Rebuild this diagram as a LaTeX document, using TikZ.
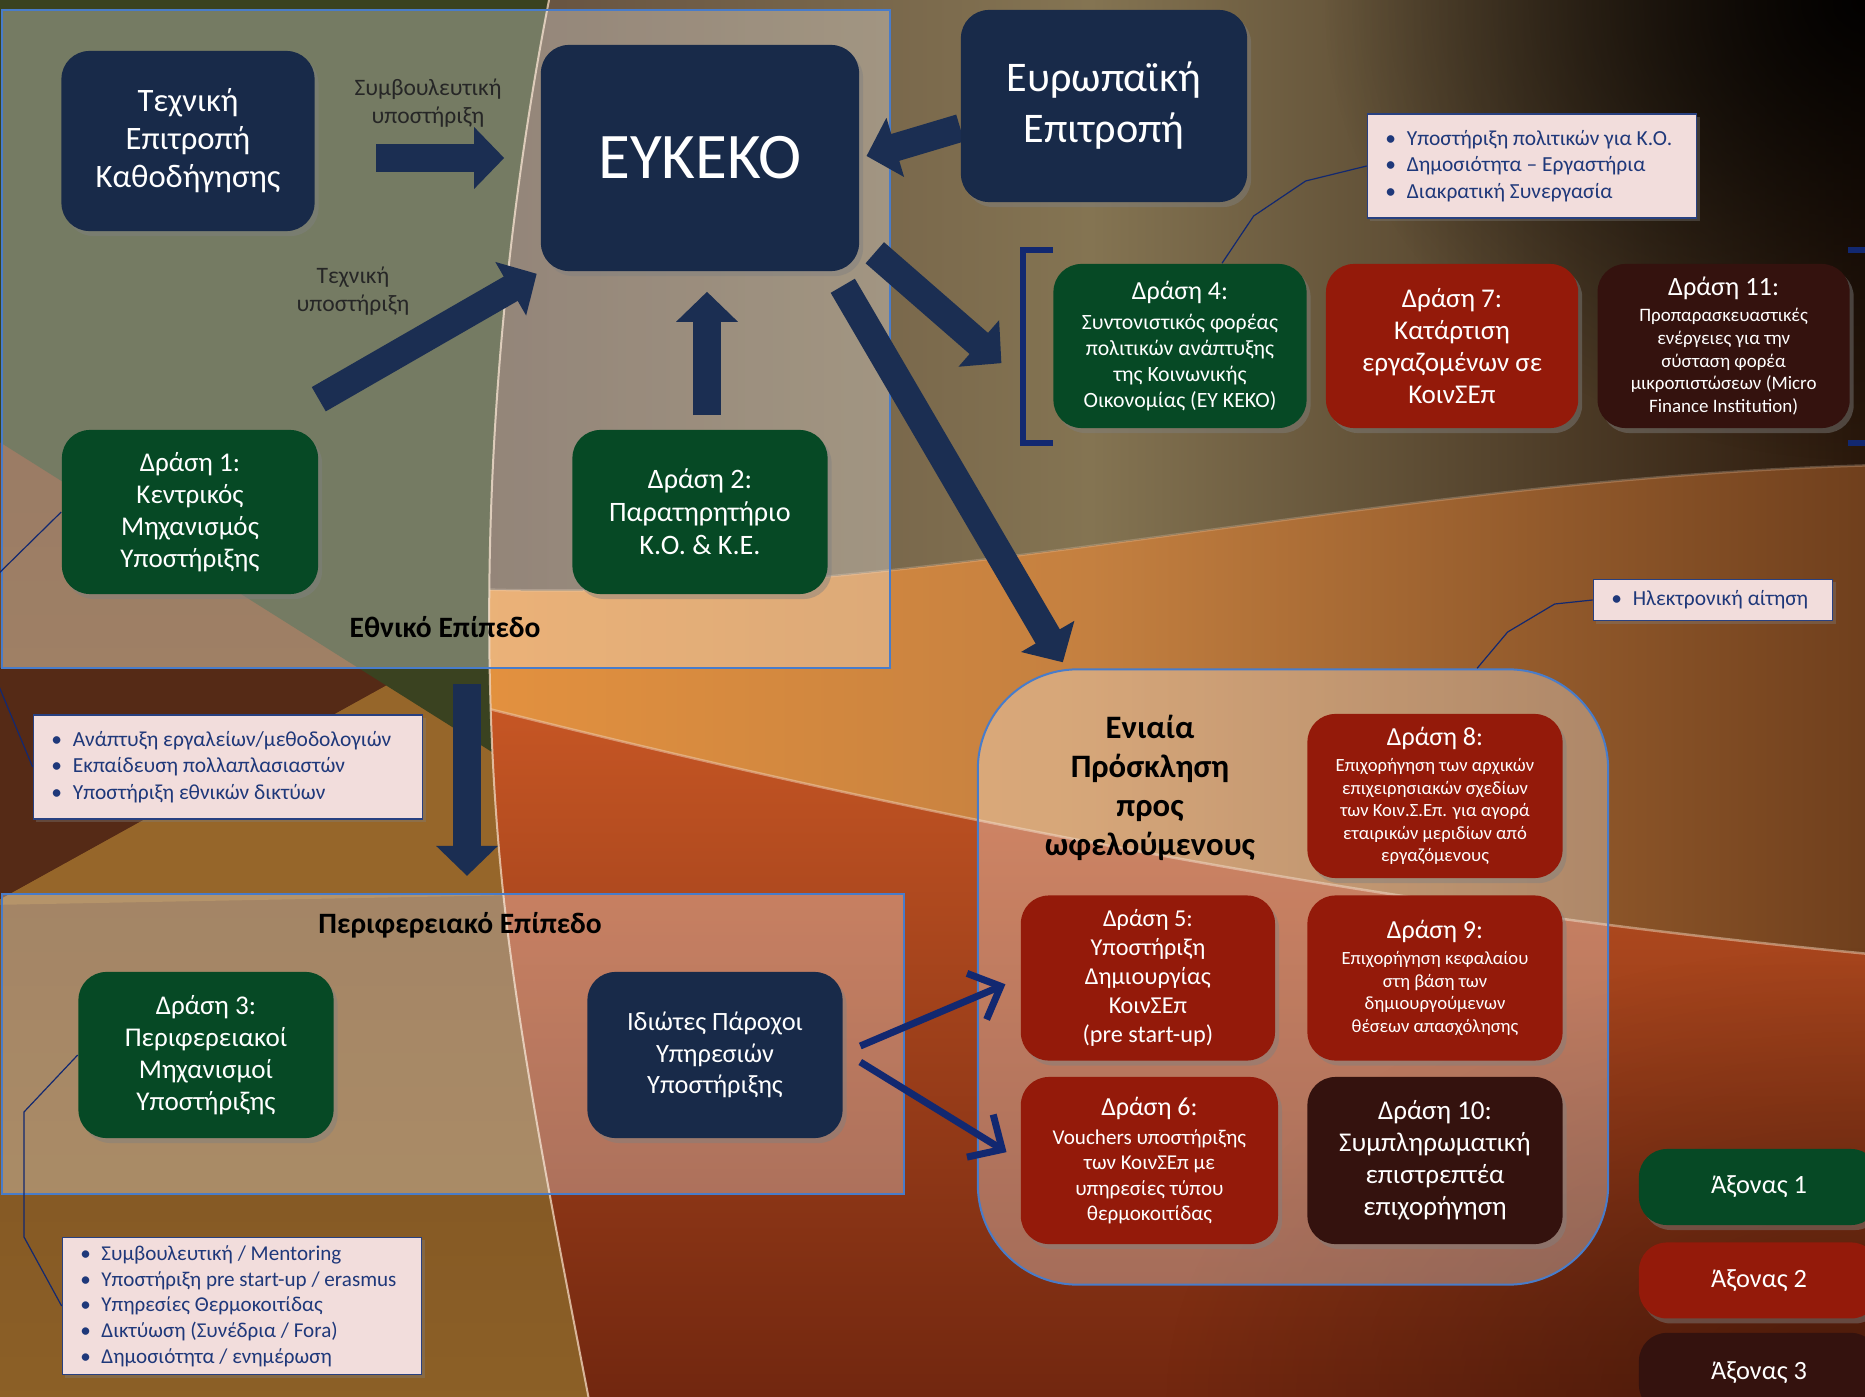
\documentclass[tikz,border=0pt]{standalone}
\usepackage{fontspec}
\setmainfont{Carlito}
\usetikzlibrary{arrows.meta,positioning,shadows,fadings}

\definecolor{navyfill}{RGB}{24,42,73}
\definecolor{greenfill}{RGB}{6,73,37}
\definecolor{redfill}{RGB}{148,26,10}
\definecolor{darkfill}{RGB}{52,18,14}
\definecolor{arrowblue}{RGB}{27,46,82}
\definecolor{barblue}{RGB}{18,40,112}
\definecolor{notefill}{RGB}{242,221,220}
\definecolor{notetext}{RGB}{31,56,122}
\definecolor{noteedge}{RGB}{40,64,128}
\definecolor{paneledge}{RGB}{72,124,202}
\definecolor{labelgray}{RGB}{38,38,38}
\definecolor{bgtop}{RGB}{98,54,33}
\definecolor{bgbottom}{RGB}{140,96,38}
\definecolor{bgolive}{RGB}{58,66,32}
\definecolor{bgdark}{RGB}{85,42,22}
\definecolor{bggold}{RGB}{150,102,42}
\definecolor{bgmauve}{RGB}{92,70,58}
\definecolor{bgkhaki}{RGB}{132,116,82}
\definecolor{bgnight}{RGB}{40,22,10}
\definecolor{bgorange}{RGB}{236,150,62}
\definecolor{bgamber}{RGB}{196,128,64}
\definecolor{bgbrown}{RGB}{110,62,28}
\definecolor{bgred}{RGB}{205,90,38}
\definecolor{bgmaroon}{RGB}{112,38,15}
\definecolor{arcwhite}{RGB}{238,210,185}

\newcommand{\setfs}[2]{\fontsize{#1}{#2}\selectfont}
\newcommand{\itm}{\textbullet\hspace{0.5em}}

\tikzfading[name=soft glow,inner color=transparent!0,outer color=transparent!100]

\pgfdeclarelayer{bgl}
\pgfdeclarelayer{panl}
\pgfdeclarelayer{arrl}
\pgfsetlayers{bgl,panl,arrl,main}

\tikzset{
  box node/.style={rounded corners=0.28cm,align=center,text=white,inner sep=0.05cm,
    minimum width=2.55cm,minimum height=1.64cm,
    drop shadow={shadow xshift=0.04cm,shadow yshift=-0.05cm,opacity=0.45}},
  navy node/.style={box node,fill=navyfill},
  green node/.style={box node,fill=greenfill},
  red node/.style={box node,fill=redfill},
  dark node/.style={box node,fill=darkfill},
  panel node/.style={draw=paneledge,line width=0.02cm,fill=white,fill opacity=0.3,inner sep=0},
  note node/.style={draw=noteedge,line width=0.015cm,fill=notefill,text=notetext,align=flush left,
    inner xsep=0.18cm,inner ysep=0.05cm,font=\setfs{6.1}{7.45},
    drop shadow={shadow xshift=0.03cm,shadow yshift=-0.03cm,opacity=0.35}},
  big arrow/.style={draw=arrowblue,line width=0.28cm,-{Triangle[length=0.3cm,width=0.6cm]}},
  thin arrow/.style={draw=barblue,line width=0.07cm,-{Straight Barb[length=0.26cm,width=0.5cm]}},
  leader/.style={draw=barblue,line width=0.012cm},
  brkt/.style={draw=barblue,line width=0.065cm},
  level/.style={font=\bfseries\setfs{8.4}{10},text=black},
  arrow label/.style={font=\setfs{6.7}{8.1},text=labelgray,align=center}
}

\begin{document}
\begin{tikzpicture}[x=0.01cm,y=-0.01cm]
\useasboundingbox (0,0) rectangle (1865,1397);

% background
\begin{pgfonlayer}{bgl}
  \shade[top color=bgtop,bottom color=bgbottom] (-10,-10) rectangle (1875,1407);
  \fill[bgdark] (-10,668) -- (418,668) -- (-10,905) -- cycle;
  \fill[bggold] (418,668) -- (520,668) -- (520,895) -- (-10,905) -- cycle;
  \fill[bgolive] (-10,-10) -- (700,-10) -- (700,883) -- (-10,436) -- cycle;
  \begin{scope}
    \clip (550,-5) .. controls (490,300) and (470,650) .. (510,950)
      .. controls (530,1100) and (560,1250) .. (590,1405) -- (1880,1410) -- (1880,-10) -- (552,-10) -- cycle;
    \shade[top color=bgred,bottom color=bgmaroon] (300,650) rectangle (1880,1410);
    \shade[left color=bgorange,right color=bgbrown,middle color=bgamber]
      (300,575) .. controls (800,640) and (1300,480) .. (1880,465) -- (1880,955)
      .. controls (1400,910) and (900,820) .. (300,660) -- cycle;
    \shade[left color=bgmauve,right color=bgnight,middle color=bgkhaki]
      (300,-10) -- (1880,-10) -- (1880,465) .. controls (1300,480) and (800,640) .. (300,575) -- cycle;
    \fill[black,path fading=soft glow,fill opacity=0.95] (1865,0) ellipse [x radius=5.4cm,y radius=4.6cm];
    \fill[black,path fading=soft glow,fill opacity=0.4] (1865,1397) ellipse [x radius=7cm,y radius=4.5cm];
    \draw[arcwhite,opacity=0.5,line width=0.025cm] (1880,955) .. controls (1400,910) and (900,820) .. (300,660);
    \draw[arcwhite,opacity=0.25,line width=0.025cm] (300,575) .. controls (800,640) and (1300,480) .. (1880,465);
  \end{scope}
  \draw[arcwhite,opacity=0.8,line width=0.02cm] (550,-5) .. controls (490,300) and (470,650) .. (510,950)
    .. controls (530,1100) and (560,1250) .. (590,1405);
\end{pgfonlayer}

% levels
\begin{pgfonlayer}{panl}
  \node[panel node,minimum width=8.88cm,minimum height=6.58cm] (nat) at (446,339) {};
  \node[panel node,minimum width=9.02cm,minimum height=3.0cm] (reg) at (453,1044) {};
  \node[panel node,rounded corners=1cm,minimum width=6.3cm,minimum height=6.15cm] (eniaia) at (1293,977) {};
\end{pgfonlayer}

\node[navy node,minimum width=2.53cm,minimum height=1.8cm,font=\setfs{9.3}{10.8}] (tek) at (188,141) {Τεχνική\\Επιτροπή\\Καθοδήγησης};
\node[navy node,minimum width=3.18cm,minimum height=2.26cm,font=\setfs{18.5}{22}] (eykeko) at (700,158) {ΕΥΚΕΚΟ};
\node[navy node,minimum width=2.86cm,minimum height=1.92cm,font=\setfs{12}{14.5}] (eur) at (1104,106) {Ευρωπαϊκή\\Επιτροπή};
\node[green node,minimum width=2.56cm,font=\setfs{7.7}{9.1}] (d1) at (190,512) {Δράση 1:\\Κεντρικός\\Μηχανισμός\\Υποστήριξης};
\node[green node,font=\setfs{8}{9.4}] (d2) at (700,512) {Δράση 2:\\Παρατηρητήριο\\Κ.Ο. \& Κ.Ε.};

\node[green node,minimum width=2.53cm,font=\setfs{6.2}{7.4}] (d4) at (1180,346)
  {{\setfs{7.4}{8.9}Δράση 4:}\\[1pt]Συντονιστικός φορέας\\πολιτικών ανάπτυξης\\της Κοινωνικής\\Οικονομίας (ΕΥ ΚΕΚΟ)};
\node[red node,minimum width=2.52cm,font=\setfs{7.7}{9.1},right=0.18cm of d4] (d7) {Δράση 7:\\Κατάρτιση\\εργαζομένων σε\\ΚοινΣΕπ};
\node[dark node,minimum width=2.52cm,font=\setfs{5.4}{6.45},right=0.18cm of d7] (d11)
  {{\setfs{7.5}{9}Δράση 11:}\\[1pt]Προπαρασκευαστικές\\ενέργειες για την\\σύσταση φορέα\\μικροπιστώσεων (Micro\\Finance Institution)};

\node[red node,font=\setfs{5.3}{6.4}] (d8) at (1435,796)
  {{\setfs{7.4}{8.9}Δράση 8:}\\[1pt]Επιχορήγηση των αρχικών\\επιχειρησιακών σχεδίων\\των Κοιν.Σ.Επ. για αγορά\\εταιρικών μεριδίων από\\εργαζόμενους};
\node[red node,minimum height=1.65cm,font=\setfs{5.3}{6.4},below=0.16cm of d8] (d9)
  {{\setfs{7.4}{8.9}Δράση 9:}\\[1pt]Επιχορήγηση κεφαλαίου\\στη βάση των\\δημιουργούμενων\\θέσεων απασχόλησης};
\node[dark node,minimum height=1.67cm,font=\setfs{7.7}{9.1},below=0.15cm of d9] (d10) {Δράση 10:\\Συμπληρωματική\\επιστρεπτέα\\επιχορήγηση};
\node[red node,minimum width=2.54cm,minimum height=1.65cm,font=\setfs{6.9}{8.3},left=0.31cm of d9] (d5) {Δράση 5:\\Υποστήριξη\\Δημιουργίας\\ΚοινΣΕπ\\(pre start-up)};
\node[red node,minimum width=2.57cm,minimum height=1.67cm,font=\setfs{6}{7.2},left=0.28cm of d10] (d6)
  {{\setfs{7.4}{8.9}Δράση 6:}\\[1pt]Vouchers υποστήριξης\\των ΚοινΣΕπ με\\υπηρεσίες τύπου\\θερμοκοιτίδας};

\node[green node,minimum height=1.66cm,font=\setfs{7.7}{9.1}] (d3) at (206,1055) {Δράση 3:\\Περιφερειακοί\\Μηχανισμοί\\Υποστήριξης};
\node[navy node,minimum height=1.66cm,font=\setfs{7.5}{9}] (idi) at (715,1055) {Ιδιώτες Πάροχοι\\Υπηρεσιών\\Υποστήριξης};

% legend
\node[green node,minimum width=2.4cm,minimum height=0.76cm,font=\setfs{7.5}{9}] (ax1) at (1759,1187) {Άξονας 1};
\node[red node,minimum width=2.4cm,minimum height=0.76cm,font=\setfs{7.5}{9},below=0.16cm of ax1] (ax2) {Άξονας 2};
\node[dark node,minimum width=2.4cm,minimum height=0.8cm,font=\setfs{7.5}{9},below=0.13cm of ax2] (ax3) {Άξονας 3};

% labels
\node[level] (lblnat) at (445,627) {Εθνικό Επίπεδο};
\node[level] (lblreg) at (460,925) {Περιφερειακό Επίπεδο};
\node[level,font=\bfseries\setfs{9.3}{11.1},align=center] (lblen) at (1150,788) {Ενιαία\\Πρόσκληση\\προς\\ωφελούμενους};
\node[arrow label] (lblsym) at (428,103) {Συμβουλευτική\\υποστήριξη};
\node[arrow label] (lbltek) at (353,291) {Τεχνική\\υποστήριξη};

% notes
\node[note node,text width=2.93cm,minimum height=1.04cm] (nt4) at (1532,166)
  {\itm Υποστήριξη πολιτικών για Κ.Ο.\\\itm Δημοσιότητα – Εργαστήρια\\\itm Διακρατική Συνεργασία};
\node[note node,text width=2.03cm,minimum height=0.41cm] (ntel) at (1713,600) {\itm Ηλεκτρονική αίτηση};
\node[note node,text width=3.53cm,minimum height=1.04cm] (nt1) at (228,767)
  {\itm Ανάπτυξη εργαλείων/μεθοδολογιών\\\itm Εκπαίδευση πολλαπλασιαστών\\\itm Υποστήριξη εθνικών δικτύων};
\node[note node,text width=3.23cm,minimum height=1.37cm,font=\setfs{6}{7.3}] (nt3) at (242,1306)
  {\itm Συμβουλευτική / Mentoring\\\itm Υποστήριξη pre start-up / erasmus\\\itm Υπηρεσίες Θερμοκοιτίδας\\\itm Δικτύωση (Συνέδρια / Fora)\\\itm Δημοσιότητα / ενημέρωση};

\coordinate (grp4) at (1015,375);

\begin{pgfonlayer}{arrl}
  \draw[big arrow,shorten <=0.61cm,shorten >=0.36cm] (tek.east |- eykeko.west) -- (eykeko.west);
  \draw[big arrow,shorten >=0.04cm] ([yshift=0.3cm]d1.north east) -- (eykeko.south west);
  \draw[big arrow,shorten <=0.14cm,shorten >=0.2cm] ([xshift=0.07cm]d2.north) -- ([xshift=0.07cm]eykeko.south);
  \draw[big arrow,shorten >=0.07cm] ([yshift=-0.22cm]eur.west) -- (eykeko.east);
  \draw[big arrow,shorten >=0.18cm] ([xshift=0.15cm,yshift=0.19cm]eykeko.south east) -- (grp4);
  \draw[big arrow] ([xshift=-0.17cm,yshift=-0.14cm]eykeko.south east) -- ([xshift=0.86cm,yshift=0.06cm]eniaia.north west);
  \draw[big arrow,shorten <=0.15cm,shorten >=0.17cm] ([xshift=0.21cm]nat.south) -- ([xshift=0.21cm]nat.south |- reg.north);
  \draw[thin arrow,shorten >=0.16cm] ([xshift=0.17cm,yshift=0.09cm]idi.east) -- (d5.west);
  \draw[thin arrow,shorten >=0.16cm] ([xshift=0.17cm,yshift=-0.07cm]idi.east) -- (d6.west);
  % brackets
  \draw[brkt] (1053,250) -- (1023,250) -- (1023,443) -- (1053,443);
  \draw[brkt] (1848,250) -- (1870,250) -- (1870,443) -- (1848,443);
  % leaders
  \draw[leader] (nt4.west) -- ++(-61,15) -- ++(-52,35) -- ([xshift=0.42cm]d4.north);
  \draw[leader] (ntel.west) -- ++(-38,4) -- ++(-47,28) -- ([xshift=1.84cm]eniaia.north);
  \draw[leader] (d1.west) -- (-12,584) -- (-12,660) -- (nt1.west);
  \draw[leader] (d3.west) -- (24,1112) -- (24,1237) -- (nt3.west);
\end{pgfonlayer}
\end{tikzpicture}
\end{document}
